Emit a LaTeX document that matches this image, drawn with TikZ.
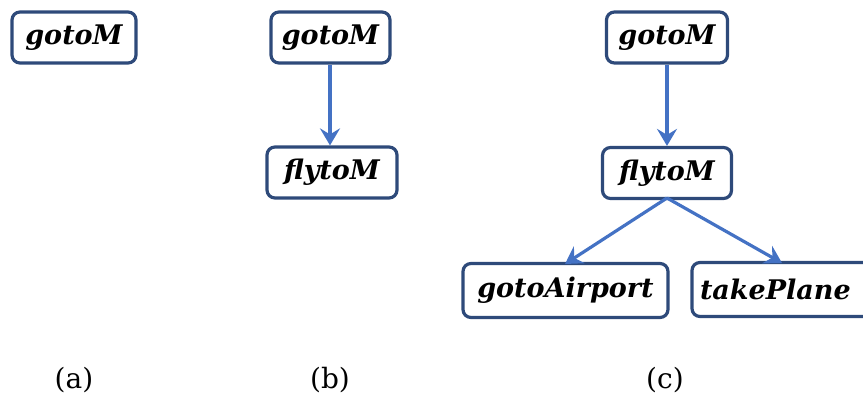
\documentclass[tikz,border=0pt]{standalone}
\usepackage{fontspec}
\setmainfont{DejaVu Serif}
\usetikzlibrary{arrows.meta}
\definecolor{boxblue}{HTML}{2E4A7A}
\definecolor{arrblue}{HTML}{4472C4}
\tikzset{
  task/.style={draw=boxblue, line width=3.2pt, rounded corners=8pt, fill=white,
    minimum height=51pt, inner sep=0pt, font=\fontsize{27}{32}\selectfont\bfseries\itshape},
  conn/.style={draw=arrblue, line width=3.2pt,
    -{Stealth[length=17pt,width=20pt,inset=6pt]}},
  sublabel/.style={font=\fontsize{28}{33}\selectfont}
}
\begin{document}
\begin{tikzpicture}[x=1pt,y=-1pt]
\useasboundingbox (0,0) rectangle (863,398);
\begin{scope}
\clip (0,0) rectangle (863,398);
% (a)
\node[task, minimum width=124pt] (a1) at (74,37.5) {gotoM};
% (b)
\node[task, minimum width=119pt] (b1) at (330.5,37.5) {gotoM};
\node[task, minimum width=130pt] (b2) at (332,172.5) {flytoM};
\draw[conn] (b1.south -| 330,0) -- (b2.north -| 330,0);
% (c)
\node[task, minimum width=121pt] (c1) at (667,37.5) {gotoM};
\node[task, minimum width=129pt] (c2) at (667,173) {flytoM};
\node[task, minimum width=205pt, minimum height=54pt] (c3) at (565.5,290.5) {gotoAirport};
\node[task, minimum width=190pt, minimum height=54pt, text width=174pt, align=left] (c4) at (787,289.5) {takePlane};
\draw[conn] (c1.south) -- (c2.north);
\coordinate (fork) at (667,198);
\draw[conn] (fork) -- (565,264);
\draw[conn] (fork) -- (782,263);
\end{scope}
\node[sublabel] (la) at (74,380) {(a)};
\node[sublabel] (lb) at (330,380) {(b)};
\node[sublabel] (lc) at (665,380) {(c)};
\end{tikzpicture}
\end{document}
